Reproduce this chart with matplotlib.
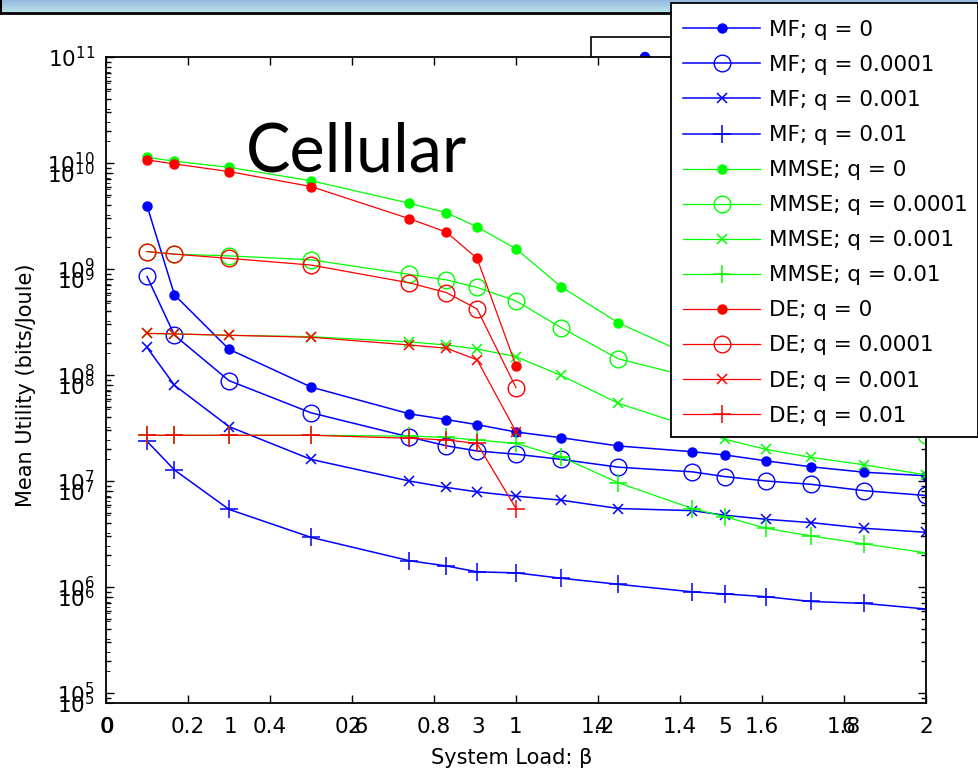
import numpy as np
import matplotlib.pyplot as plt
from matplotlib.patches import Rectangle, Ellipse
from matplotlib.lines import Line2D
from matplotlib.ticker import FixedLocator, NullFormatter, FormatStrFormatter

# system load (beta) sample points
beta = [0.1, 0.167, 0.3, 0.5, 0.74, 0.83, 0.905, 1.0,
        1.11, 1.25, 1.43, 1.51, 1.61, 1.72, 1.85, 2.0]
beta_de = beta[:8]

# Mean utility (bits/Joule)
mf_q0 = [3.96e9, 5.7e8, 1.75e8, 7.7e7, 4.3e7, 3.8e7, 3.4e7, 2.9e7,
         2.56e7, 2.14e7, 1.89e7, 1.76e7, 1.55e7, 1.36e7, 1.21e7, 1.12e7]
mf_q1 = [8.5e8, 2.37e8, 8.85e7, 4.4e7, 2.6e7, 2.15e7, 1.92e7, 1.79e7,
         1.6e7, 1.35e7, 1.22e7, 1.1e7, 1.0e7, 9.3e6, 8.1e6, 7.3e6]
mf_q2 = [1.82e8, 8.0e7, 3.26e7, 1.6e7, 1.0e7, 8.7e6, 7.9e6, 7.2e6,
         6.6e6, 5.5e6, 5.25e6, 4.75e6, 4.35e6, 4.05e6, 3.58e6, 3.28e6]
mf_q3 = [2.37e7, 1.27e7, 5.4e6, 2.94e6, 1.77e6, 1.58e6, 1.39e6, 1.36e6,
         1.21e6, 1.06e6, 9.0e5, 8.6e5, 8.1e5, 7.3e5, 7.0e5, 6.2e5]
mmse_q0 = [1.13e10, 1.04e10, 9.1e9, 6.8e9, 4.17e9, 3.4e9, 2.5e9, 1.55e9,
           6.8e8, 3.1e8, 1.5e8, 1.1e8, 8.5e7, 6.5e7, 5.0e7, 3.8e7]
mmse_q1 = [1.46e9, 1.38e9, 1.33e9, 1.22e9, 8.9e8, 7.9e8, 6.7e8, 5.0e8,
           2.8e8, 1.42e8, 9.5e7, 8.0e7, 6.3e7, 5.0e7, 3.8e7, 2.7e7]
mmse_q2 = [2.47e8, 2.44e8, 2.37e8, 2.3e8, 2.05e8, 1.92e8, 1.76e8, 1.49e8,
           9.9e7, 5.4e7, 3.2e7, 2.47e7, 1.99e7, 1.67e7, 1.42e7, 1.14e7]
mmse_q3 = [2.7e7, 2.7e7, 2.7e7, 2.7e7, 2.65e7, 2.58e7, 2.44e7, 2.26e7,
           1.69e7, 9.6e6, 5.5e6, 4.6e6, 3.58e6, 3.03e6, 2.55e6, 2.1e6]
de_q0 = [1.07e10, 9.8e9, 8.3e9, 6.0e9, 2.98e9, 2.23e9, 1.26e9, 1.22e8]
de_q1 = [1.46e9, 1.38e9, 1.26e9, 1.09e9, 7.4e8, 6.0e8, 4.2e8, 7.6e7]
de_q2 = [2.47e8, 2.44e8, 2.37e8, 2.27e8, 1.92e8, 1.79e8, 1.39e8, 2.92e7]
de_q3 = [2.7e7, 2.7e7, 2.7e7, 2.7e7, 2.53e7, 2.44e7, 2.26e7, 5.5e6]

q_labels = ['0', '0.0001', '0.001', '0.01']
x_ticks = [0, 0.2, 0.4, 0.6, 0.8, 1.0, 1.2, 1.4, 1.6, 1.8, 2.0]
x2_ticks = [0, 1, 2, 3, 4, 5, 6]
y_ticks = [1e5, 1e6, 1e7, 1e8, 1e9, 1e10, 1e11]

W, H = 979, 776
fig = plt.figure(figsize=(W / 100, H / 100), dpi=100)


def fx(px):
    return px / W


def fy(py):
    return 1 - py / H


# slide title bar
bar = fig.add_axes([0, fy(12), 1, 12 / H])
grad = np.linspace(0, 1, 20).reshape(-1, 1)
top_c = np.array([150, 185, 225]) / 255
bot_c = np.array([185, 225, 232]) / 255
img = top_c[None, None, :] * (1 - grad[:, :, None]) + bot_c[None, None, :] * grad[:, :, None]
bar.imshow(np.repeat(img, 10, axis=1), aspect='auto', extent=(0, 1, 0, 1))
bar.axis('off')
fig.add_artist(Line2D([0, fx(672)], [fy(13), fy(13)], color='black', lw=2,
                      transform=fig.transFigure))
fig.add_artist(Line2D([fx(1), fx(1)], [fy(0), fy(13)], color='black', lw=1.5,
                      transform=fig.transFigure))

# hidden legend box of a second axes, mostly covered
fig.add_artist(Rectangle((fx(591), fy(80)), fx(100), 43 / H, fc='white', ec='black',
                         lw=1.2, transform=fig.transFigure, zorder=-1))
fig.add_artist(Ellipse((fx(645), fy(57)), 9 / W, 9 / H, color='blue',
                       transform=fig.transFigure, zorder=-1))

rect = [fx(106), fy(703), (926 - 106) / W, (703 - 57) / H]
ax = fig.add_axes(rect)
ax.set_yscale('log')

blue, green, red = (0, 0, 1), (0, 1, 0), (1, 0, 0)
markers = [dict(marker='o', ms=6.5),
           dict(marker='o', ms=12, mfc='none'),
           dict(marker='x', ms=7, mew=1.1),
           dict(marker='+', ms=13, mew=1.1)]

handles = []
for name, col, xs, series, lw in [
        ('MF', blue, beta, [mf_q0, mf_q1, mf_q2, mf_q3], 1.1),
        ('MMSE', green, beta, [mmse_q0, mmse_q1, mmse_q2, mmse_q3], 0.9),
        ('DE', red, beta_de, [de_q0, de_q1, de_q2, de_q3], 0.9)]:
    for q, ys, mk in zip(q_labels, series, markers):
        h, = ax.plot(xs, ys, color=col, lw=lw, label=f'{name}; q = {q}', **mk)
        handles.append(h)

ax.set_xlim(0, 2)
ax.set_ylim(10 ** (5 - 10 / 106), 1e11)
ax.set_xticks(x_ticks)
ax.xaxis.set_major_formatter(FormatStrFormatter('%g'))
ax.yaxis.set_major_locator(FixedLocator(y_ticks))
minor = [m * 10 ** e for e in range(4, 11) for m in range(2, 10)]
ax.yaxis.set_minor_locator(FixedLocator(minor))
ax.yaxis.set_minor_formatter(NullFormatter())
ax.tick_params(which='both', direction='in', top=True, right=True, labelsize=15.5)
ax.tick_params(which='major', length=6, width=1)
ax.tick_params(which='minor', length=3.5, width=1)
ax.tick_params(axis='x', pad=10)
ax.tick_params(axis='y', pad=8)
for s in ax.spines.values():
    s.set_linewidth(1.3)

ax.set_xlabel('System Load: β', fontsize=15)
ax.xaxis.set_label_coords((512 - 106) / 820, (703 - 748) / 646)
ax.set_ylabel('Mean Utility (bits/Joule)', fontsize=15)
ax.yaxis.set_label_coords((36 - 106) / 820, (703 - 385) / 646)

# second overlaid axes (only its tick labels show)
ax2 = fig.add_axes(rect, facecolor='none')
ax2.set_yscale('log')
ax2.set_ylim(1e5, 10 ** (11 + 10 / 106))
ax2.set_xlim(-0.012, 6.627)
ax2.set_xticks(x2_ticks)
ax2.xaxis.set_major_formatter(FormatStrFormatter('%d'))
ax2.yaxis.set_major_locator(FixedLocator(y_ticks[:-1]))
ax2.yaxis.set_minor_locator(FixedLocator(minor))
ax2.yaxis.set_minor_formatter(NullFormatter())
ax2.tick_params(which='both', direction='in', labelsize=15.5)
ax2.tick_params(axis='x', length=0, pad=10)
ax2.tick_params(axis='y', which='major', length=5, pad=8)
ax2.tick_params(axis='y', which='minor', length=3)
for s in ax2.spines.values():
    s.set_visible(False)

fig.text(fx(246), fy(172), 'Cellular', fontsize=48, family='Lato', va='baseline')

# legend
fig.add_artist(Rectangle((fx(671), fy(437)), fx(307), 434 / H, fc='white', ec='black',
                         lw=1.3, transform=fig.transFigure, zorder=4))
fig.legend(handles=handles, loc='upper left', bbox_to_anchor=(fx(671), fy(8)),
           frameon=False, fontsize=15.5, handlelength=3.6, handletextpad=0.4,
           labelspacing=0.70, borderpad=0.55, borderaxespad=0)

fig.savefig('out.png', dpi=100)
